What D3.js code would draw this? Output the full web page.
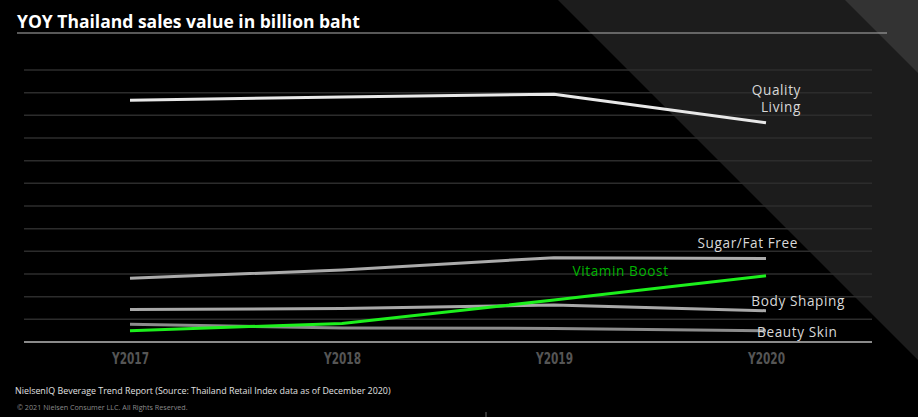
<!DOCTYPE html>
<html>
<head>
<meta charset="utf-8">
<script src="https://cdn.jsdelivr.net/npm/d3@7/dist/d3.min.js"></script>
<style>
  html, body { margin: 0; padding: 0; background: #000; }
  svg { display: block; }
</style>
</head>
<body>
<svg id="chart" width="918" height="417"></svg>
<script>
// ---- data ----
const years = ["Y2017", "Y2018", "Y2019", "Y2020"];
const qualityLiving = [10.67, 10.81, 10.93, 9.67];
const sugarFatFree = [2.81, 3.18, 3.72, 3.68];
const bodyShaping = [1.43, 1.48, 1.63, 1.38];
const beautySkin = [0.78, 0.62, 0.60, 0.50];
const vitaminBoost = [0.50, 0.82, 1.85, 2.92];
const gridTicks = [0, 1, 2, 3, 4, 5, 6, 7, 8, 9, 10, 11, 12];

const seriesList = [
  { name: "Beauty Skin", values: beautySkin, color: "#8c8c8c" },
  { name: "Body Shaping", values: bodyShaping, color: "#a8a8a8" },
  { name: "Sugar/Fat Free", values: sugarFatFree, color: "#ababab" },
  { name: "Quality Living", values: qualityLiving, color: "#e8e8e8" },
  { name: "Vitamin Boost", values: vitaminBoost, color: "#1cf01c" }
];

const W = 918, H = 417;
const svg = d3.select("#chart");

// ---- background ----
svg.append("rect").attr("width", W).attr("height", H).attr("fill", "#000");
svg.append("polygon").attr("points", "558,0 918,0 918,360").attr("fill", "#1c1c1c");
svg.append("polygon").attr("points", "845,0 918,0 918,73").attr("fill", "#333333");

// ---- title ----
svg.append("text")
  .attr("x", 17).attr("y", 28)
  .attr("fill", "#ffffff")
  .style("font-family", "'Open Sans', 'DejaVu Sans', sans-serif")
  .style("font-weight", "700")
  .style("font-size", "17.5px")
  .text("YOY Thailand sales value in billion baht");
svg.append("line")
  .attr("x1", 17).attr("x2", 887).attr("y1", 33).attr("y2", 33)
  .attr("stroke", "#b0b0b0").attr("stroke-width", 1.2);

// ---- scales ----
const x = d3.scalePoint().domain(years).range([130, 766]);
const y = d3.scaleLinear().domain([0, 12]).range([342, 70]);

// ---- grid ----
const grid = svg.append("g");
grid.selectAll("line").data(gridTicks).join("line")
  .attr("x1", 24).attr("x2", 872)
  .attr("y1", d => y(d)).attr("y2", d => y(d))
  .attr("stroke", d => d === 0 ? "#8a8a8a" : "#2c2c2c")
  .attr("stroke-width", d => d === 0 ? 2 : 1.5);

// ---- x axis labels ----
const xAxis = d3.axisBottom(x).tickSize(0).tickPadding(0);
const gx = svg.append("g").attr("transform", "translate(0,353)").call(xAxis);
gx.select(".domain").remove();
gx.selectAll("text")
  .attr("fill", "#555555")
  .attr("textLength", 37)
  .attr("lengthAdjust", "spacingAndGlyphs")
  .style("font-family", "'Liberation Sans Narrow', 'DejaVu Sans Condensed', sans-serif")
  .style("font-weight", "700")
  .style("font-size", "15px");

// ---- lines ----
const line = d3.line()
  .x((d, i) => x(years[i]))
  .y(d => y(d));

svg.append("g").selectAll("path").data(seriesList).join("path")
  .attr("d", s => line(s.values))
  .attr("fill", "none")
  .attr("stroke", s => s.color)
  .attr("stroke-width", 3)
  .attr("stroke-linejoin", "round");

// ---- labels ----
const labelFont = "'Open Sans', 'DejaVu Sans', sans-serif";
const labels = [
  { text: "Quality", x: 801, y: 95, anchor: "end", color: "#d8d8d8" },
  { text: "Living", x: 801, y: 111.5, anchor: "end", color: "#d8d8d8" },
  { text: "Sugar/Fat Free", x: 798, y: 248, anchor: "end", color: "#d8d8d8" },
  { text: "Vitamin Boost", x: 572.5, y: 276, anchor: "start", color: "#00b400" },
  { text: "Body Shaping", x: 845, y: 305.5, anchor: "end", color: "#d8d8d8" },
  { text: "Beauty Skin", x: 837.5, y: 337, anchor: "end", color: "#d8d8d8" }
];
svg.append("g").selectAll("text").data(labels).join("text")
  .attr("x", d => d.x).attr("y", d => d.y)
  .attr("text-anchor", d => d.anchor)
  .attr("fill", d => d.color)
  .style("font-family", labelFont)
  .style("font-size", "13.6px")
  .style("letter-spacing", "0.6px")
  .text(d => d.text);

// ---- footer ----
svg.append("text")
  .attr("x", 15).attr("y", 394)
  .attr("fill", "#e0e0e0")
  .style("font-family", labelFont)
  .style("font-size", "8.9px")
  .text("NielsenIQ Beverage Trend Report (Source: Thailand Retail Index data as of December 2020)");
svg.append("text")
  .attr("x", 17).attr("y", 410)
  .attr("fill", "#8a8a8a")
  .style("font-family", labelFont)
  .style("font-size", "7.2px")
  .text("© 2021 Nielsen Consumer LLC. All Rights Reserved.");
svg.append("line")
  .attr("x1", 486).attr("x2", 486).attr("y1", 412).attr("y2", 417)
  .attr("stroke", "#666").attr("stroke-width", 1);
</script>
</body>
</html>
